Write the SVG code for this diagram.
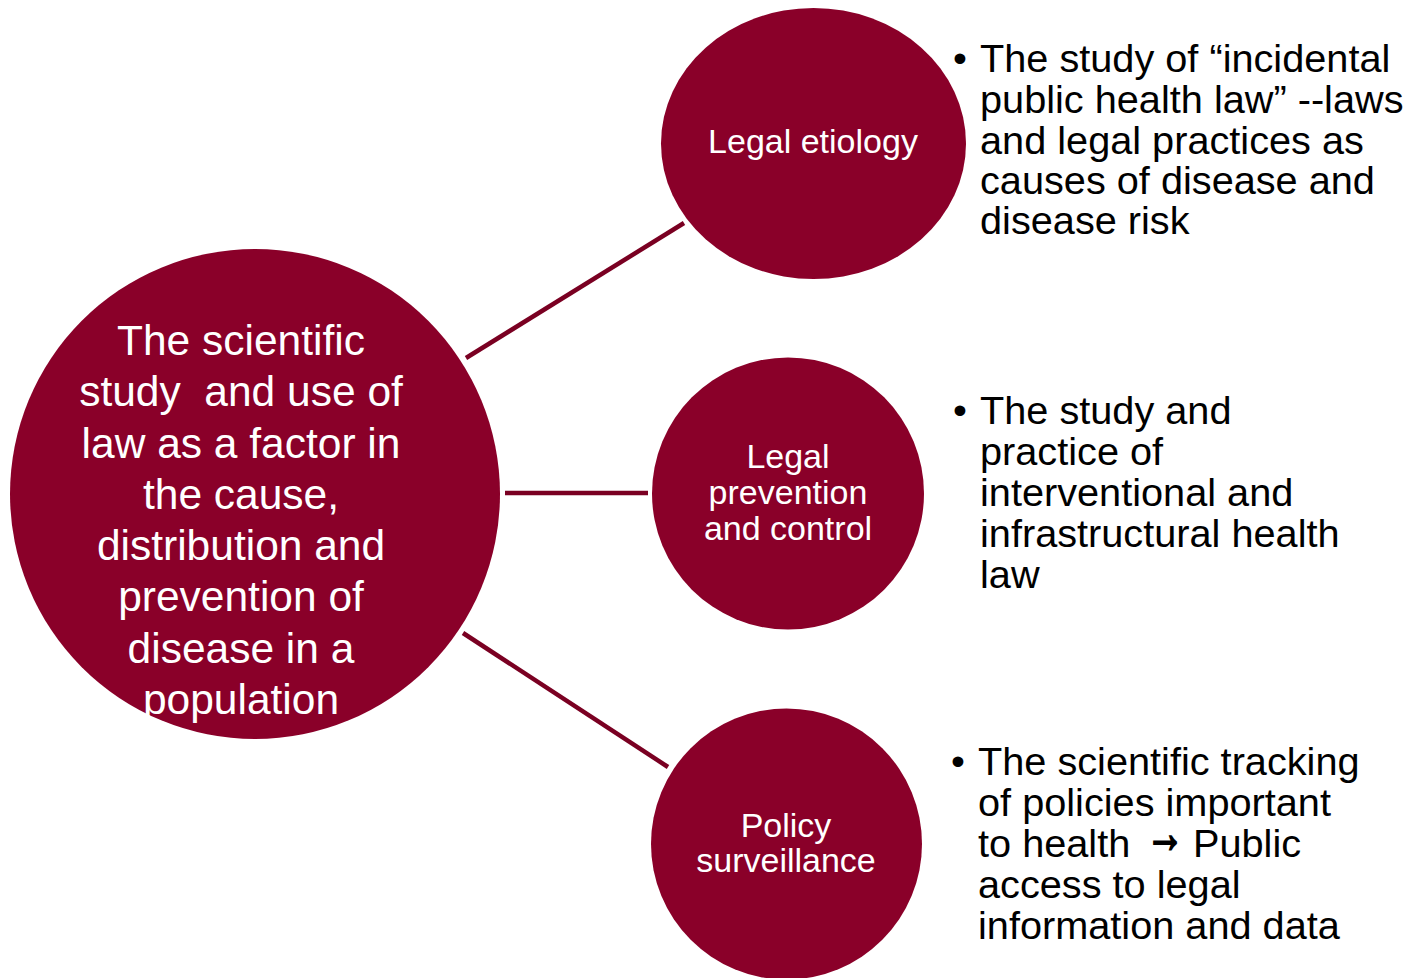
<svg xmlns="http://www.w3.org/2000/svg" width="1417" height="978" viewBox="0 0 1417 978">
<style>
.node{fill:#8a0029;}
.conn{stroke:#7a0022;stroke-width:4.5;fill:none;}
.wt{fill:#ffffff;font-family:"Liberation Sans",Arial,sans-serif;text-anchor:middle;}
.m{font-size:42.5px;}
.s{font-size:34px;}
.bt{fill:#000000;font-family:"Liberation Sans",Arial,sans-serif;font-size:39.7px;}
</style>
<rect width="1417" height="978" fill="#ffffff"/>
<g id="connectors">
<line class="conn" x1="466" y1="358" x2="684" y2="223"/>
<line class="conn" x1="505" y1="493" x2="648" y2="493"/>
<line class="conn" x1="463" y1="633" x2="668" y2="767"/>
</g>
<g id="main">
<circle class="node" cx="255" cy="494" r="245"/>
<text class="wt m" x="241" y="355">The scientific</text>
<text class="wt m" x="241" y="406" xml:space="preserve">study  and use of</text>
<text class="wt m" x="241" y="458">law as a factor in</text>
<text class="wt m" x="241" y="509">the cause,</text>
<text class="wt m" x="241" y="560">distribution and</text>
<text class="wt m" x="241" y="611">prevention of</text>
<text class="wt m" x="241" y="663">disease in a</text>
<text class="wt m" x="241" y="714">population</text>
</g>
<g id="etiology">
<ellipse class="node" cx="813.5" cy="143.5" rx="152.5" ry="135.5"/>
<text class="wt s" x="813" y="153">Legal etiology</text>
</g>
<g id="prevention">
<circle class="node" cx="788" cy="493.5" r="136"/>
<text class="wt s" x="788" y="468">Legal</text>
<text class="wt s" x="788" y="504">prevention</text>
<text class="wt s" x="788" y="540">and control</text>
</g>
<g id="surveillance">
<circle class="node" cx="786.5" cy="844" r="135.5"/>
<text class="wt s" x="786" y="837">Policy</text>
<text class="wt s" x="786" y="872">surveillance</text>
</g>
<g id="desc1">
<text class="bt" x="953" y="72">•</text>
<text class="bt" x="980" y="72">The study of “incidental</text>
<text class="bt" x="980" y="113">public health law” --laws</text>
<text class="bt" x="980" y="154">and legal practices as</text>
<text class="bt" x="980" y="194">causes of disease and</text>
<text class="bt" x="980" y="234">disease risk</text>
</g>
<g id="desc2">
<text class="bt" x="953" y="424">•</text>
<text class="bt" x="980" y="424">The study and</text>
<text class="bt" x="980" y="465">practice of</text>
<text class="bt" x="980" y="506">interventional and</text>
<text class="bt" x="980" y="547">infrastructural health</text>
<text class="bt" x="980" y="588">law</text>
</g>
<g id="desc3">
<text class="bt" x="951" y="775">•</text>
<text class="bt" x="978" y="775">The scientific tracking</text>
<text class="bt" x="978" y="816">of policies important</text>
<text class="bt" x="978" y="857">to health</text>
<text class="bt" text-anchor="middle" x="0" y="8" stroke="#000000" stroke-width="1.6" transform="translate(1165,841) scale(0.95,1.4)">→</text>
<text class="bt" x="1193" y="857">Public</text>
<text class="bt" x="978" y="898">access to legal</text>
<text class="bt" x="978" y="939">information and data</text>
</g>
</svg>
